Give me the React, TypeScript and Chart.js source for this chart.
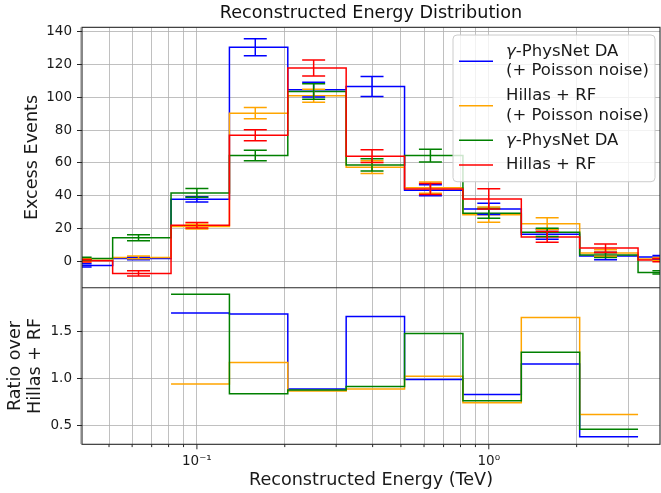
import React, { useEffect, useRef } from 'react';
import { Chart, registerables } from 'chart.js';

Chart.register(...registerables);

// ---- data ----
const BIN_CENTERS = [0.0398, 0.0631, 0.1, 0.1585, 0.2512, 0.3981, 0.631, 1.0, 1.585, 2.512, 3.981];

const BLUE_COUNTS = [-2.7, 1.5, 37.7, 130.5, 104.6, 106.6, 43.2, 31.8, 16.3, 3.0, 2.4];
const ORANGE_COUNTS = [0.5, 2.2, 21.0, 90.3, 100.9, 57.3, 44.8, 28.3, 22.8, 4.9, 1.2];
const GREEN_COUNTS = [1.5, 14.2, 41.6, 64.4, 103.5, 58.7, 64.4, 29.1, 17.5, 3.7, -7.0];
const RED_COUNTS = [0.2, -7.6, 21.8, 76.8, 117.8, 64.0, 44.0, 37.9, 14.7, 7.9, 0.6];

const BLUE_ERR = [1.0, 0.8, 1.6, 5.2, 4.5, 6.1, 3.3, 3.4, 3.0, 2.2, 1.0];
const ORANGE_ERR = [0.8, 0.8, 1.5, 3.5, 4.0, 3.9, 3.4, 4.7, 3.6, 2.0, 1.0];
const GREEN_ERR = [0.8, 1.8, 2.7, 3.2, 4.7, 3.8, 3.9, 3.0, 2.5, 1.5, 1.0];
const RED_ERR = [0.8, 1.6, 1.7, 3.3, 4.9, 3.9, 3.4, 6.2, 3.3, 2.5, 1.0];

// ratio over Hillas + RF, bins 2..9
const RATIO_FIRST_BIN = 2;
const BLUE_RATIO = [1.70, 1.69, 0.893, 1.665, 0.993, 0.835, 1.157, 0.385];
const ORANGE_RATIO = [0.946, 1.175, 0.871, 0.893, 1.028, 0.746, 1.654, 0.62];
const GREEN_RATIO = [1.90, 0.842, 0.882, 0.92, 1.482, 0.767, 1.282, 0.464];

const COUNT_TICKS = [0, 20, 40, 60, 80, 100, 120, 140];
const RATIO_TICKS = [0.5, 1.0, 1.5];
const X_TICKS = [0.04, 0.05, 0.06, 0.07, 0.08, 0.09, 0.1, 0.2, 0.3, 0.4, 0.5, 0.6, 0.7, 0.8, 0.9, 1, 2, 3];
const X_MAJOR = [0.1, 1];
const X_MAJOR_LABELS = ['10\u207B\u00B9', '10\u2070'];

const LEGEND_LABELS = [
  ['\u03B3-PhysNet DA', '(+ Poisson noise)'],
  ['Hillas + RF', '(+ Poisson noise)'],
  ['\u03B3-PhysNet DA'],
  ['Hillas + RF'],
];

const COLORS = ['#0000ff', '#ffa500', '#008000', '#ff0000'];
const FONT = '"DejaVu Sans"';
const LABEL_SIZE = 17.6;

// ---- helpers ----
function stepEdges(): number[] {
  const e: number[] = [];
  for (let k = 1; k < BIN_CENTERS.length; k++) e.push((BIN_CENTERS[k - 1] + BIN_CENTERS[k]) / 2);
  return e;
}

// points for stepped: 'before' -> horizontal at previous value, then vertical at the new x
function countSteps(vals: number[]) {
  const edges = stepEdges();
  const pts = [{ x: BIN_CENTERS[0], y: vals[0] }];
  for (let k = 1; k < vals.length; k++) pts.push({ x: edges[k - 1], y: vals[k] });
  pts.push({ x: BIN_CENTERS[BIN_CENTERS.length - 1], y: vals[vals.length - 1] });
  return pts;
}

function ratioSteps(vals: number[]) {
  const edges = stepEdges();
  const pts: { x: number; y: number }[] = [];
  for (let j = 0; j < vals.length; j++) pts.push({ x: edges[RATIO_FIRST_BIN - 1 + j], y: vals[j] });
  pts.push({ x: edges[RATIO_FIRST_BIN - 1 + vals.length], y: vals[vals.length - 1] });
  return pts;
}

const SERIES_COUNTS = [BLUE_COUNTS, ORANGE_COUNTS, GREEN_COUNTS, RED_COUNTS];
const SERIES_ERR = [BLUE_ERR, ORANGE_ERR, GREEN_ERR, RED_ERR];
const SERIES_RATIO = [BLUE_RATIO, ORANGE_RATIO, GREEN_RATIO];

const errorBarPlugin = {
  id: 'errorBars',
  afterDatasetsDraw(chart: any) {
    const { ctx, chartArea } = chart;
    const xs = chart.scales.x;
    const ys = chart.scales.y;
    ctx.save();
    ctx.beginPath();
    ctx.rect(chartArea.left, ys.top, chartArea.right - chartArea.left, ys.bottom - ys.top);
    ctx.clip();
    ctx.lineWidth = 1.5;
    SERIES_COUNTS.forEach((vals, s) => {
      ctx.strokeStyle = COLORS[s];
      vals.forEach((v, k) => {
        const x = xs.getPixelForValue(BIN_CENTERS[k]);
        const yLo = ys.getPixelForValue(v - SERIES_ERR[s][k]);
        const yHi = ys.getPixelForValue(v + SERIES_ERR[s][k]);
        ctx.beginPath();
        ctx.moveTo(x, yLo);
        ctx.lineTo(x, yHi);
        ctx.moveTo(x - 11.5, yLo);
        ctx.lineTo(x + 11.5, yLo);
        ctx.moveTo(x - 11.5, yHi);
        ctx.lineTo(x + 11.5, yHi);
        ctx.stroke();
      });
    });
    ctx.restore();
  },
};

const framePlugin = {
  id: 'frame',
  afterDraw(chart: any) {
    const { ctx, chartArea } = chart;
    const xs = chart.scales.x;
    const ys = chart.scales.y;
    ctx.save();
    ctx.strokeStyle = '#262626';
    ctx.lineWidth = 1.1;
    ctx.strokeRect(chartArea.left, chartArea.top, chartArea.right - chartArea.left, chartArea.bottom - chartArea.top);
    ctx.beginPath();
    ctx.moveTo(chartArea.left, ys.bottom);
    ctx.lineTo(chartArea.right, ys.bottom);
    ctx.stroke();
    ctx.lineWidth = 1;
    X_TICKS.forEach((t) => {
      const x = xs.getPixelForValue(t);
      if (x < chartArea.left - 0.5 || x > chartArea.right + 0.5) return;
      const len = X_MAJOR.includes(t) ? 5 : 2.8;
      ctx.beginPath();
      ctx.moveTo(x, chartArea.bottom);
      ctx.lineTo(x, chartArea.bottom + len);
      ctx.stroke();
    });
    ctx.restore();
  },
};

const legendPlugin = {
  id: 'boxLegend',
  afterDraw(chart: any) {
    const { ctx, chartArea } = chart;
    const bx = chartArea.right - 207;
    const by = chartArea.top + 7.7;
    const bw = 202;
    const bh = 146.7;
    const r = 4;
    ctx.save();
    ctx.beginPath();
    ctx.moveTo(bx + r, by);
    ctx.lineTo(bx + bw - r, by);
    ctx.quadraticCurveTo(bx + bw, by, bx + bw, by + r);
    ctx.lineTo(bx + bw, by + bh - r);
    ctx.quadraticCurveTo(bx + bw, by + bh, bx + bw - r, by + bh);
    ctx.lineTo(bx + r, by + bh);
    ctx.quadraticCurveTo(bx, by + bh, bx, by + bh - r);
    ctx.lineTo(bx, by + r);
    ctx.quadraticCurveTo(bx, by, bx + r, by);
    ctx.closePath();
    ctx.fillStyle = 'rgba(255,255,255,0.8)';
    ctx.fill();
    ctx.strokeStyle = '#cccccc';
    ctx.lineWidth = 1;
    ctx.stroke();

    const LH = 19.7;
    const STEP = 24.7;
    let y = by + 16.4;
    ctx.textBaseline = 'middle';
    ctx.textAlign = 'left';
    LEGEND_LABELS.forEach((lines, i) => {
      const cy = y + ((lines.length - 1) * LH) / 2;
      ctx.strokeStyle = COLORS[i];
      ctx.lineWidth = 1.5;
      ctx.beginPath();
      ctx.moveTo(bx + 6, cy);
      ctx.lineTo(bx + 40, cy);
      ctx.stroke();
      ctx.fillStyle = '#1a1a1a';
      lines.forEach((line, j) => {
        const ty = y + j * LH;
        let tx = bx + 53;
        if (line.startsWith('\u03B3')) {
          ctx.font = `italic 16.5px ${FONT}`;
          ctx.fillText('\u03B3', tx, ty);
          tx += ctx.measureText('\u03B3').width;
          ctx.font = `16.5px ${FONT}`;
          ctx.fillText(line.slice(1), tx, ty);
        } else {
          ctx.font = `16.5px ${FONT}`;
          ctx.fillText(line, tx, ty);
        }
      });
      y += (lines.length - 1) * LH + STEP;
    });
    ctx.restore();
  },
};

export default function App() {
  const ref = useRef<HTMLCanvasElement>(null);

  useEffect(() => {
    if (!ref.current) return;
    Chart.defaults.font.family = FONT;
    Chart.defaults.color = '#1a1a1a';

    const datasets: any[] = [];
    const labels = ['blue', 'orange', 'green', 'red'];
    SERIES_COUNTS.forEach((vals, s) => {
      datasets.push({
        label: labels[s],
        data: countSteps(vals),
        yAxisID: 'y',
        borderColor: COLORS[s],
        borderWidth: 1.5,
        pointRadius: 0,
        stepped: 'before',
        fill: false,
        order: 10 - s,
      });
    });
    SERIES_RATIO.forEach((vals, s) => {
      datasets.push({
        label: labels[s] + ' ratio',
        data: ratioSteps(vals),
        yAxisID: 'y2',
        borderColor: COLORS[s],
        borderWidth: 1.5,
        pointRadius: 0,
        stepped: 'before',
        fill: false,
        order: 10 - s,
      });
    });

    const gridColor = 'rgba(176,176,176,0.8)';

    const chart = new Chart(ref.current, {
      type: 'line',
      data: { datasets },
      plugins: [errorBarPlugin, framePlugin, legendPlugin],
      options: {
        animation: false,
        responsive: false,
        devicePixelRatio: 1,
        parsing: false,
        layout: { padding: { left: 0, right: 1, top: 0, bottom: 0 } },
        plugins: {
          legend: { display: false },
          tooltip: { enabled: false },
          title: {
            display: true,
            fullSize: false,
            text: 'Reconstructed Energy Distribution',
            color: '#111',
            font: { size: LABEL_SIZE, weight: 'normal', family: FONT },
            padding: { top: 2.5, bottom: 3.7 },
          },
        },
        scales: {
          x: {
            type: 'logarithmic',
            position: 'bottom',
            min: 0.0404,
            max: 3.86,
            afterFit: (s: any) => { s.height = 48.7; },
            afterBuildTicks: (s: any) => { s.ticks = X_TICKS.map((v) => ({ value: v })); },
            border: { display: false },
            grid: { color: gridColor, lineWidth: 1, drawTicks: true, tickLength: 5, tickColor: 'transparent' },
            ticks: {
              autoSkip: false,
              maxRotation: 0,
              padding: 4,
              font: { size: 13.5, family: FONT },
              callback: (v: any) => {
                const i = X_MAJOR.findIndex((m) => Math.abs(m - Number(v)) < 1e-9);
                return i >= 0 ? X_MAJOR_LABELS[i] : '';
              },
            },
            title: {
              display: true,
              text: 'Reconstructed Energy (TeV)',
              font: { size: LABEL_SIZE, family: FONT },
              padding: { top: 0, bottom: 2.4 },
            },
          },
          y2: {
            type: 'linear',
            position: 'left',
            stack: 'panels',
            stackWeight: 156.6,
            min: 0.304,
            max: 1.97,
            afterFit: (s: any) => { s.width = 82; },
            afterBuildTicks: (s: any) => { s.ticks = RATIO_TICKS.map((v) => ({ value: v })); },
            border: { display: false },
            grid: { color: gridColor, lineWidth: 1, tickLength: 5, tickColor: '#262626' },
            ticks: {
              padding: 5,
              font: { size: 13.5, family: FONT },
              callback: (v: any) => Number(v).toFixed(1),
            },
            title: {
              display: true,
              text: ['Ratio over', 'Hillas + RF'],
              font: { size: LABEL_SIZE, family: FONT, lineHeight: 1.15 },
              padding: { top: 5.5, bottom: 0 },
            },
          },
          y: {
            type: 'linear',
            position: 'left',
            stack: 'panels',
            stackWeight: 260.4,
            min: -16.3,
            max: 142.7,
            afterFit: (s: any) => { s.width = 82; },
            afterBuildTicks: (s: any) => { s.ticks = COUNT_TICKS.map((v) => ({ value: v })); },
            border: { display: false },
            grid: { color: gridColor, lineWidth: 1, tickLength: 5, tickColor: '#262626' },
            ticks: {
              padding: 5,
              font: { size: 13.5, family: FONT },
              callback: (v: any) => String(v),
            },
            title: {
              display: true,
              text: 'Excess Events',
              font: { size: LABEL_SIZE, family: FONT },
              padding: { top: 21.4, bottom: 0 },
            },
          },
        },
      } as any,
    });
    return () => chart.destroy();
  }, []);

  return (
    <div style={{ position: 'fixed', left: 0, top: 0, width: 661, height: 493, background: '#fff' }}>
      <canvas ref={ref} width={661} height={493} style={{ width: 661, height: 493, display: 'block' }} />
    </div>
  );
}
